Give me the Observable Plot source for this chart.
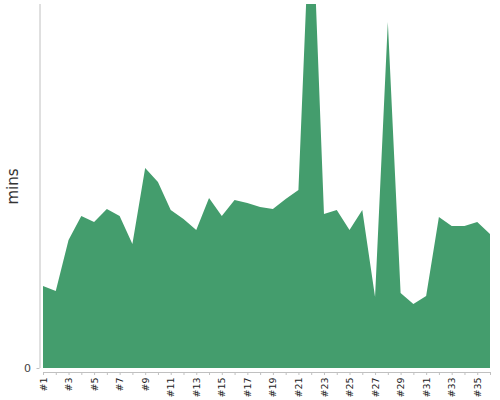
<!DOCTYPE html>
<html>
<head>
<meta charset="utf-8">
<script src="https://cdn.jsdelivr.net/npm/d3@7"></script>
<script src="https://cdn.jsdelivr.net/npm/@observablehq/plot@0.6"></script>
<style>
  html, body { margin: 0; padding: 0; background: #fff; }
  #chart svg { display: block; }
</style>
</head>
<body>
<div id="chart"></div>
<script>
const labels = Array.from({length: 36}, (_, i) => "#" + (i + 1));
const values = [82, 77, 128, 152, 146, 159, 152, 124, 200, 186, 158, 149, 138, 170, 152, 168, 165, 161, 159, 169, 178, 488, 154, 158, 138, 158, 71, 346, 75, 64, 72, 151, 142, 142, 146, 134];
const yTicks = [0];
const yLabel = "mins";

const data = labels.map((label, i) => ({label, value: values[i]}));

const chart = Plot.plot({
  width: 500,
  height: 400,
  marginLeft: 43,
  marginRight: 10,
  marginTop: 4,
  marginBottom: 32,
  style: {fontFamily: "DejaVu Sans", background: "#fff"},
  x: {type: "point", domain: labels, padding: 0, round: false},
  y: {domain: [0, 364]},
  marks: [
    Plot.areaY(data, {x: "label", y: "value", fill: "#449d6d", clip: true}),
    Plot.ruleY([0], {dy: 4, stroke: "#c0c0c0"}),
    Plot.ruleX([labels[0]], {dx: -3.5, stroke: "#c0c0c0"}),
    Plot.axisX({
      dy: 4, tickSize: 3, tickPadding: 2, tickRotate: -90, label: null,
      stroke: "#c0c0c0", fill: "#222", fontSize: 9.5,
      tickFormat: (d) => (labels.indexOf(d) % 2 === 0 ? d : "")
    }),
    Plot.axisY({
      ticks: yTicks, tickSize: 3, dx: -3.5, label: null,
      stroke: "#c0c0c0", fill: "#444", fontSize: 11
    }),
    Plot.text([yLabel], {frameAnchor: "left", textAnchor: "middle", dx: -30, rotate: -90, fontSize: 15, fill: "#333"})
  ]
});
document.getElementById("chart").appendChild(chart);
</script>
</body>
</html>
